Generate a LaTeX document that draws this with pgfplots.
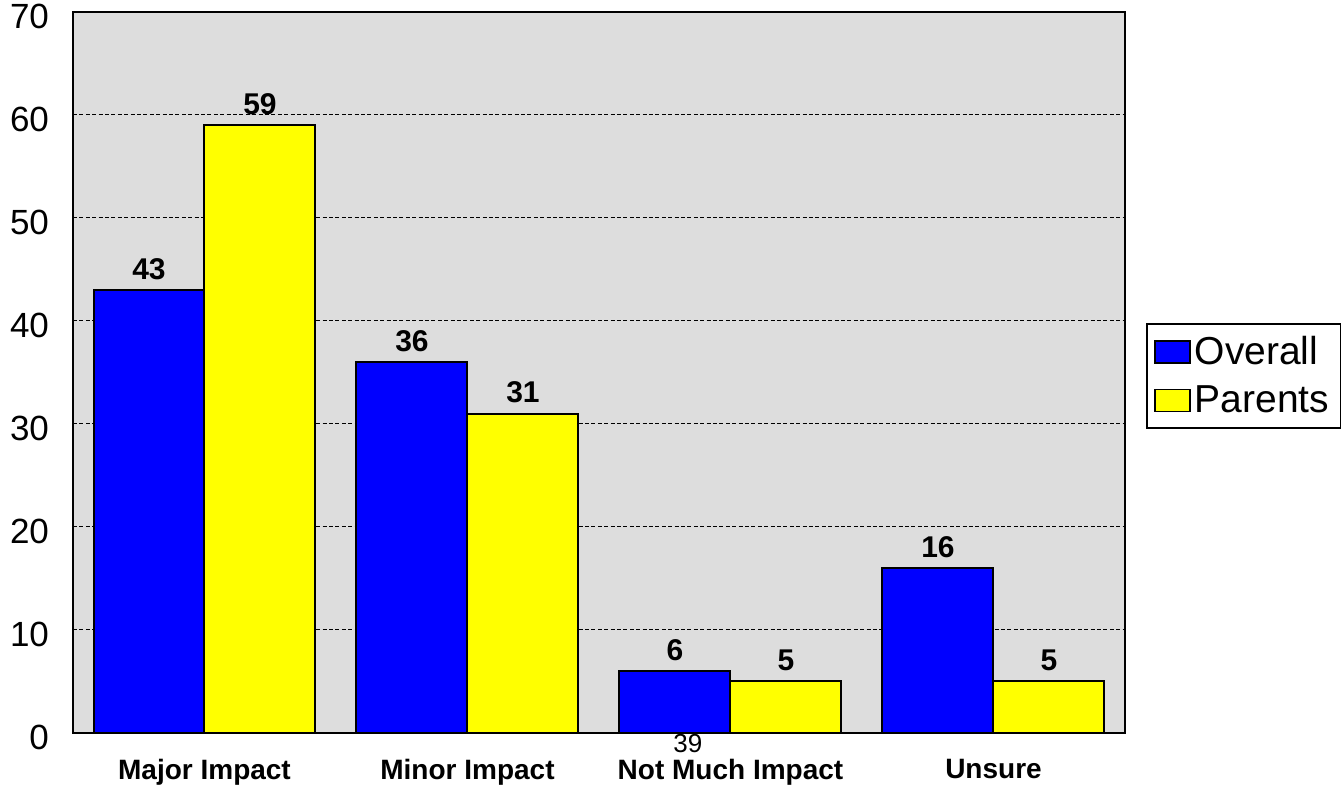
\documentclass[border=0pt]{standalone}
\usepackage{fontspec}
\setmainfont{Liberation Sans}
\usepackage{pgfplots}
\pgfplotsset{compat=1.18}
\definecolor{bggray}{RGB}{221,221,221}
\definecolor{barblue}{RGB}{0,0,255}
\definecolor{baryellow}{RGB}{255,255,0}
\begin{document}
\begin{tikzpicture}
\begin{axis}[
  scale only axis, width=526pt, height=360.5pt,
  ybar=0pt, bar width=55.5pt,
  xmin=-0.5, xmax=3.5, ymin=0, ymax=70,
  xtick=data,
  xticklabels={Major Impact, Minor Impact, Not Much Impact, Unsure},
  ytick={0,10,...,70},
  ymajorgrids, grid style={dash pattern=on 2pt off 1.2pt, black, line width=0.5pt},
  major tick length=0pt,
  axis background/.style={fill=bggray},
  axis line style={line width=1pt},
  clip=false,
  /pgf/number format/assume math mode=true,
  yticklabel style={font=\fontsize{17.5}{20}\selectfont, inner ysep=0pt, xshift=-8.5pt, yshift=-2pt},
  xticklabel style={font=\bfseries\fontsize{14}{16}\selectfont, yshift=-9.5pt},
  nodes near coords,
  every node near coord/.append style={font=\bfseries\fontsize{15}{17}\selectfont, black, yshift=1.5pt},
  legend style={at={(1.02,0.495)}, anchor=west, draw=black, line width=0.75pt,
    font=\fontsize{19.5}{22}\selectfont, inner xsep=3.75pt, inner ysep=4.25pt,
    row sep=5pt, cells={anchor=west}},
  legend image code/.code={\draw[#1, line width=0.75pt] (0pt,-5.5pt) rectangle (17.5pt,5.5pt);},
]
\addplot[draw=black, line width=1pt, fill=barblue] coordinates {(0,43) (1,36) (2,6) (3,16)};
\addplot[draw=black, line width=1pt, fill=baryellow] coordinates {(0,59) (1,31) (2,5) (3,5)};
\legend{Overall, Parents}
\node[font=\fontsize{13}{15}\selectfont, inner sep=0pt] at (axis cs:1.838,-1.05) {39};
\path (rel axis cs:-0.0694,-0.0749) (rel axis cs:1.2082,1.0166);
\end{axis}
\end{tikzpicture}
\end{document}
